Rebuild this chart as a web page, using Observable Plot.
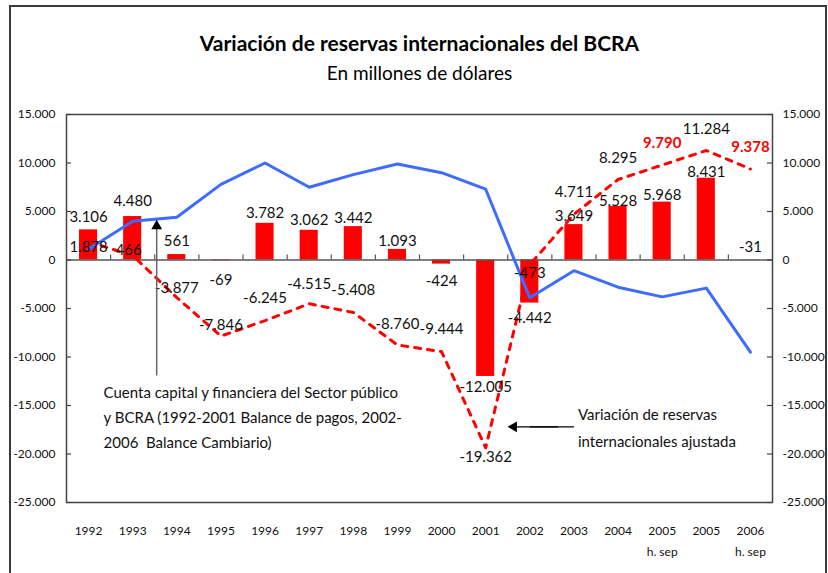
<!DOCTYPE html>
<html><head><meta charset="utf-8">
<script src="https://cdn.jsdelivr.net/npm/d3@7"></script>
<script src="https://cdn.jsdelivr.net/npm/@observablehq/plot@0.6"></script>
<style>
html,body{margin:0;padding:0;background:#fff;}
#wrap{position:relative;width:828px;height:573px;overflow:hidden;background:#fff;}
#border{position:absolute;left:9px;top:5px;width:814px;height:600px;border:2px solid #3a3a3a;pointer-events:none;}
#chart{position:absolute;left:0;top:0;}
</style></head><body>
<div id="wrap"><div id="chart"></div><div id="border"></div></div>
<script>
// ---- data ----
const categories = ["1992","1993","1994","1995","1996","1997","1998","1999","2000","2001","2002","2003","2004","2005 h. sep","2005","2006 h. sep"];
const xTickLabels = ["1992","1993","1994","1995","1996","1997","1998","1999","2000","2001","2002","2003","2004","2005\nh. sep","2005","2006\nh. sep"];
const reserveVariation = [3106,4480,561,-69,3782,3062,3442,1093,-424,-12005,-4442,3649,5528,5968,8431,-31];
const adjustedVariation = [1878,466,-3877,-7846,-6245,-4515,-5408,-8760,-9444,-19362,-473,4711,8295,9790,11284,9378];
const capitalAccount = [1100,4000,4400,7800,10000,7500,8800,9900,9000,7300,-3900,-1100,-2800,-3800,-2900,-9500];
const yTicks = [-25000,-20000,-15000,-10000,-5000,0,5000,10000,15000];
const highlighted = ["2005 h. sep","2006 h. sep"];
const titleText = "Variación de reservas internacionales del BCRA";
const subtitleText = "En millones de dólares";
const note1 = "Cuenta capital y financiera del Sector público\ny BCRA (1992-2001 Balance de pagos, 2002-\n2006\u00a0 Balance Cambiario)";
const note2 = "Variación de reservas\ninternacionales ajustada";

const rows = categories.map((c, i) => ({cat: c, bar: reserveVariation[i], adj: adjustedVariation[i], cap: capitalAccount[i]}));

// ---- layout / style ----
const W = 828, H = 573, mL = 66, mR = 56, mT = 114, mB = 71;
const frameW = W - mL - mR;
const step = frameW / categories.length;
const fmt = d3.formatLocale({decimal: ",", thousands: ".", grouping: [3], currency: ["", ""], minus: "-"}).format(",d");
const barDy = [-13,-15,-13,20,-10,-10,-8,-8,17,11,15,-8,-5,-7,-6,-13];
const adjDy = [5,-5,-9,-11,-22,-20,-22,-21,-22,9,9,-22,-21,-22,-21,-22];
const adjDx = [0,-4,0,0,0,0,0,0,0,0,0,0,0,0,0,0];
const FONT = "Lato, 'Open Sans', sans-serif";

const labelMarks = [];
rows.forEach((r, i) => {
  labelMarks.push(Plot.text([r], {x: "cat", y: "bar", text: d => fmt(d.bar), dy: barDy[i], fontSize: 15, fill: "#111"}));
  const hl = highlighted.includes(r.cat);
  labelMarks.push(Plot.text([r], {x: "cat", y: "adj", text: d => fmt(d.adj), dy: adjDy[i], dx: adjDx[i], fontSize: 15,
    fill: hl ? "#ff0000" : "#111", fontWeight: hl ? "bold" : "normal"}));
});

const chart = Plot.plot({
  width: W, height: H,
  marginLeft: mL, marginRight: mR, marginTop: mT, marginBottom: mB,
  style: {fontFamily: FONT, fontSize: "12px", background: "transparent", color: "#111"},
  x: {type: "band", domain: categories, paddingInner: 0.59, paddingOuter: 0.295, round: false},
  y: {domain: [-25000, 15000]},
  marks: [
    Plot.barY(rows, {x: "cat", y: "bar", fill: "#ff0000"}),
    Plot.ruleY([0], {stroke: "#555", strokeWidth: 1.5}),
    Plot.ruleX(categories.slice(1), {x: d => d, y1: 0, y2: 0, insetTop: -5, dx: -step / 2, stroke: "#555", strokeWidth: 1.2}),
    Plot.line(rows, {x: "cat", y: "adj", stroke: "#ff0000", strokeWidth: 3, strokeDasharray: "6,7"}),
    Plot.line(rows, {x: "cat", y: "cap", stroke: "#3d6cff", strokeWidth: 3}),
    Plot.frame({stroke: "#444", strokeWidth: 1.5}),
    Plot.ruleY(yTicks, {y: d => d, insetRight: frameW - 5, stroke: "#444", strokeWidth: 1.2}),
    Plot.ruleY(yTicks, {y: d => d, insetLeft: frameW - 5, stroke: "#444", strokeWidth: 1.2}),
    Plot.axisY(yTicks, {anchor: "left", tickSize: 0, tickPadding: 11, tickFormat: fmt, fontSize: 12, label: null}),
    Plot.axisY(yTicks, {anchor: "right", tickSize: 0, tickPadding: 10, tickFormat: fmt, fontSize: 12, label: null}),
    Plot.axisX({tickSize: 0, tickPadding: 17, tickFormat: d => xTickLabels[categories.indexOf(d)], fontSize: 12, lineHeight: 1.8, label: null}),
    ...labelMarks,
    // annotation 1
    Plot.link([0], {x1: () => "1993", x2: () => "1993", y1: () => -11900, y2: () => 3300, dx: 24, stroke: "#666", strokeWidth: 1.5}),
    Plot.dot([0], {x: () => "1993", y: () => 3500, dx: 24, symbol: "triangle", r: 4, fill: "#000", stroke: "none"}),
    Plot.text([note1], {x: () => "1992", y: () => -16000, dx: 15, text: d => d, textAnchor: "start", fontSize: 15, lineHeight: 1.67, fill: "#111"}),
    // annotation 2
    Plot.link([0], {x1: () => "2003", x2: () => "2002", y1: () => -17200, y2: () => -17200, stroke: "#000", strokeWidth: 1.2}),
    Plot.link([0], {x1: () => "2003", x2: () => "2002", y1: () => -17200, y2: () => -17200, dx: -16, stroke: "#000", strokeWidth: 1.2}),
    Plot.dot([0], {x: () => "2002", y: () => -17200, dx: -16, symbol: "triangle", rotate: -90, r: 4, fill: "#000", stroke: "none"}),
    Plot.text([note2], {x: () => "2003", y: () => -17000, dx: 4, text: d => d, textAnchor: "start", fontSize: 15, lineHeight: 1.8, fill: "#111"}),
    // title
    Plot.text([titleText], {frameAnchor: "top", dy: -78, text: d => d, fontSize: 21, fontWeight: "bold", fill: "#000"}),
    Plot.text([subtitleText], {frameAnchor: "top", dy: -48, text: d => d, fontSize: 19, fill: "#000"})
  ]
});
document.getElementById("chart").appendChild(chart);
</script>
</body></html>
